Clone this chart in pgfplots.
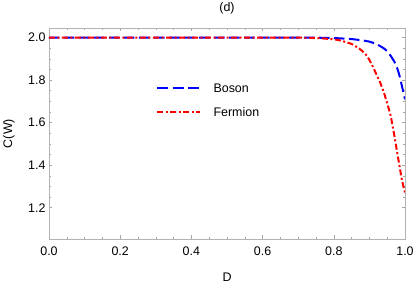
\documentclass[border=0pt]{standalone}
\usepackage{pgfplots}
\pgfplotsset{compat=1.18}
\usepackage{fontspec}
\setmainfont{Liberation Sans}
\begin{document}
\begin{tikzpicture}[x=1bp,y=1bp]
\path[use as bounding box] (0,0) rectangle (415,284);
\begin{axis}[
  at={(49bp,45bp)}, anchor=south west,
  scale only axis, width=356bp, height=211bp,
  xmin=0, xmax=1, ymin=1.053, ymax=2.045,
  xtick={0,0.2,0.4,0.6,0.8,1.0},
  ytick={1.2,1.4,1.6,1.8,2.0},
  minor x tick num=3, minor y tick num=3,
  xticklabel style={/pgf/number format/.cd,fixed,fixed zerofill,precision=1},
  yticklabel style={/pgf/number format/.cd,fixed,fixed zerofill,precision=1},
  /pgf/number format/assume math mode=true,
  tick label style={font=\fontsize{12.5}{14}\selectfont},
  label style={font=\fontsize{12.5}{14}\selectfont},
  tick align=inside,
  major tick length=3.5bp, minor tick length=2bp,
  every tick/.style={gray!70, line width=0.5pt},
  axis line style={gray!60, line width=0.7pt},
  xlabel={D}, ylabel={C(W)},
  xlabel style={at={(axis description cs:0.5,0)}, anchor=center, yshift=-38bp},
  ylabel style={at={(axis description cs:0,0.5)}, anchor=center, rotate=0, yshift=40bp},
  xticklabel shift=4bp, yticklabel shift=0bp,
  clip=true,
]
\addplot[blue, line width=2bp, dash pattern=on 10.5bp off 4.5bp] coordinates {
(0,2.0) (0.5,2.0) (0.7,2.0) (0.75,1.9995) (0.8,1.998) (0.85,1.993) (0.88,1.987) (0.90,1.981) (0.92,1.970) (0.94,1.950) (0.95,1.936) (0.96,1.914) (0.97,1.887) (0.975,1.869) (0.98,1.847) (0.985,1.818) (0.99,1.782) (0.995,1.746) (1.0,1.71)
};
\addplot[red, line width=2bp, dash pattern=on 6bp off 2.5bp on 2bp off 2.5bp] coordinates {
(0,2.0) (0.5,2.0) (0.7,1.9995) (0.75,1.998) (0.80,1.992) (0.82,1.986) (0.85,1.970) (0.87,1.950) (0.88,1.937) (0.89,1.920) (0.90,1.895) (0.91,1.862) (0.92,1.826) (0.93,1.790) (0.94,1.745) (0.95,1.692) (0.96,1.632) (0.97,1.540) (0.975,1.490) (0.98,1.440) (0.985,1.392) (0.99,1.343) (0.995,1.303) (1.0,1.272)
};
\end{axis}
\node[font=\fontsize{12.5}{14}\selectfont] at (227,276) {(d)};
% legend
\draw[blue, line width=2bp, dash pattern=on 11bp off 4.5bp] (157,196) -- (200,196);
\node[anchor=west, font=\fontsize{12.5}{14}\selectfont] at (210,196) {Boson};
\draw[red, line width=2bp, dash pattern=on 6bp off 2.5bp on 2bp off 2.5bp] (157,171.5) -- (200,171.5);
\node[anchor=west, font=\fontsize{12.5}{14}\selectfont] at (210,171.5) {Fermion};
\end{tikzpicture}
\end{document}
